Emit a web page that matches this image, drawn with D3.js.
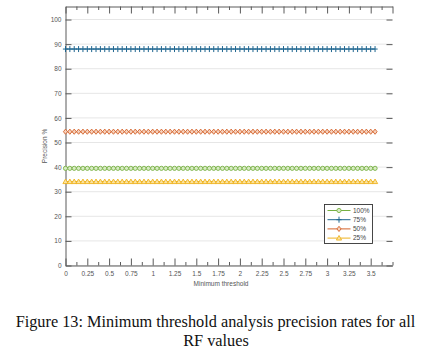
<!DOCTYPE html>
<html><head><meta charset="utf-8">
<script src="https://cdn.jsdelivr.net/npm/d3@7"></script>
<style>body{margin:0;background:#fff}svg{display:block}</style>
</head><body>
<svg id="c" width="425" height="360"></svg>
<script>
const thresholds = [0,0.05,0.1,0.15,0.2,0.25,0.3,0.35,0.4,0.45,0.5,0.55,0.6,0.65,0.7,0.75,0.8,0.85,0.9,0.95,1,1.05,1.1,1.15,1.2,1.25,1.3,1.35,1.4,1.45,1.5,1.55,1.6,1.65,1.7,1.75,1.8,1.85,1.9,1.95,2,2.05,2.1,2.15,2.2,2.25,2.3,2.35,2.4,2.45,2.5,2.55,2.6,2.65,2.7,2.75,2.8,2.85,2.9,2.95,3,3.05,3.1,3.15,3.2,3.25,3.3,3.35,3.4,3.45,3.5,3.55];
const rf100 = [39.5,39.5,39.5,39.5,39.5,39.5,39.5,39.5,39.5,39.5,39.5,39.5,39.5,39.5,39.5,39.5,39.5,39.5,39.5,39.5,39.5,39.5,39.5,39.5,39.5,39.5,39.5,39.5,39.5,39.5,39.5,39.5,39.5,39.5,39.5,39.5,39.5,39.5,39.5,39.5,39.5,39.5,39.5,39.5,39.5,39.5,39.5,39.5,39.5,39.5,39.5,39.5,39.5,39.5,39.5,39.5,39.5,39.5,39.5,39.5,39.5,39.5,39.5,39.5,39.5,39.5,39.5,39.5,39.5,39.5,39.5,39.5];
const rf75 = [88,88,88,88,88,88,88,88,88,88,88,88,88,88,88,88,88,88,88,88,88,88,88,88,88,88,88,88,88,88,88,88,88,88,88,88,88,88,88,88,88,88,88,88,88,88,88,88,88,88,88,88,88,88,88,88,88,88,88,88,88,88,88,88,88,88,88,88,88,88,88,88];
const rf50 = [54.4,54.4,54.4,54.4,54.4,54.4,54.4,54.4,54.4,54.4,54.4,54.4,54.4,54.4,54.4,54.4,54.4,54.4,54.4,54.4,54.4,54.4,54.4,54.4,54.4,54.4,54.4,54.4,54.4,54.4,54.4,54.4,54.4,54.4,54.4,54.4,54.4,54.4,54.4,54.4,54.4,54.4,54.4,54.4,54.4,54.4,54.4,54.4,54.4,54.4,54.4,54.4,54.4,54.4,54.4,54.4,54.4,54.4,54.4,54.4,54.4,54.4,54.4,54.4,54.4,54.4,54.4,54.4,54.4,54.4,54.4,54.4];
const rf25 = [34.1,34.1,34.1,34.1,34.1,34.1,34.1,34.1,34.1,34.1,34.1,34.1,34.1,34.1,34.1,34.1,34.1,34.1,34.1,34.1,34.1,34.1,34.1,34.1,34.1,34.1,34.1,34.1,34.1,34.1,34.1,34.1,34.1,34.1,34.1,34.1,34.1,34.1,34.1,34.1,34.1,34.1,34.1,34.1,34.1,34.1,34.1,34.1,34.1,34.1,34.1,34.1,34.1,34.1,34.1,34.1,34.1,34.1,34.1,34.1,34.1,34.1,34.1,34.1,34.1,34.1,34.1,34.1,34.1,34.1,34.1,34.1];
const seriesNames = ["100%","75%","50%","25%"];
const xTickLabels = ["0","0.25","0.5","0.75","1","1.25","1.5","1.75","2","2.25","2.5","2.75","3","3.25","3.5"];
const yTickLabels = ["0","10","20","30","40","50","60","70","80","90","100"];

const series = [
  {name: seriesNames[0], values: rf100, color: "#77b043", fill: "#d8ecc4", sym: "circle"},
  {name: seriesNames[1], values: rf75,  color: "#1f6690", fill: "none",    sym: "plus"},
  {name: seriesNames[2], values: rf50,  color: "#d4622a", fill: "#f6d2bd", sym: "diamond"},
  {name: seriesNames[3], values: rf25,  color: "#eeb320", fill: "#fbe3a2", sym: "triangle"}
];

const svg = d3.select("#c");
const L = 65.5, R = 392.5, T = 6.5, B = 265.5;
const x = d3.scaleLinear().domain([0, 3.75]).range([L, R]);
const y = d3.scaleLinear().domain([0, 105.3]).range([B, T]);
const axisColor = "#5a5a5a", labelColor = "#555", fontFam = "Liberation Sans, Arial, sans-serif";

// grid
svg.append("g").selectAll("line").data(yTickLabels.map(Number)).join("line")
  .attr("x1", L).attr("x2", R).attr("y1", d => y(d)).attr("y2", d => y(d))
  .attr("stroke", "#e6e6e6").attr("stroke-width", 1);

// axes
const yVals = yTickLabels.map(Number);
const xMajor = xTickLabels.map(Number).concat([3.75]);
const xMinor = d3.range(0.125, 3.75, 0.25);

const gLeft = svg.append("g").attr("transform", `translate(${L},0)`)
  .call(d3.axisLeft(y).tickValues(yVals).tickFormat((d,i) => yTickLabels[i]).tickSizeInner(-6).tickSizeOuter(0).tickPadding(4));
gLeft.select(".domain").attr("stroke", axisColor);
gLeft.selectAll(".tick line").attr("stroke", axisColor);
gLeft.selectAll("text").attr("fill", labelColor).attr("font-size", 6.5).attr("font-family", fontFam);

const gRight = svg.append("g").attr("transform", `translate(${R},0)`)
  .call(d3.axisRight(y).tickValues(yVals).tickFormat("").tickSizeInner(-6).tickSizeOuter(0));
gRight.select(".domain").remove();
gRight.selectAll(".tick line").attr("stroke", axisColor);

const gBottom = svg.append("g").attr("transform", `translate(0,${B})`)
  .call(d3.axisBottom(x).tickValues(xTickLabels.map(Number)).tickFormat((d,i) => xTickLabels[i]).tickSizeInner(-7).tickSizeOuter(0).tickPadding(6));
gBottom.select(".domain").attr("stroke", axisColor);
gBottom.selectAll(".tick line").attr("stroke", axisColor);
gBottom.selectAll("text").attr("fill", labelColor).attr("font-size", 6.5).attr("font-family", fontFam);
svg.append("g").attr("transform", `translate(0,${B})`)
  .call(d3.axisBottom(x).tickValues(xMinor.concat([3.75])).tickFormat("").tickSizeInner(-3.5).tickSizeOuter(0))
  .call(g => g.select(".domain").remove())
  .selectAll(".tick line").attr("stroke", axisColor);

const gTop = svg.append("g").attr("transform", `translate(0,${T})`)
  .call(d3.axisTop(x).tickValues(xMajor).tickFormat("").tickSizeInner(-7).tickSizeOuter(0));
gTop.select(".domain").attr("stroke", axisColor);
gTop.selectAll(".tick line").attr("stroke", axisColor);
svg.append("g").attr("transform", `translate(0,${T})`)
  .call(d3.axisTop(x).tickValues(xMinor).tickFormat("").tickSizeInner(-3.5).tickSizeOuter(0))
  .call(g => g.select(".domain").remove())
  .selectAll(".tick line").attr("stroke", axisColor);

// labels
svg.append("text").attr("x", (L + R) / 2 - 8).attr("y", 286).attr("text-anchor", "middle")
  .attr("font-size", 6.5).attr("font-family", fontFam).attr("fill", labelColor).text("Minimum threshold");
svg.append("text").attr("transform", `translate(46.5,146) rotate(-90)`).attr("text-anchor", "middle")
  .attr("font-size", 6.5).attr("font-family", fontFam).attr("fill", labelColor).text("Precision %");

// symbols
function drawMarker(g, s, cx, cy, scale) {
  const k = scale || 1;
  if (s.sym === "circle") {
    g.append("circle").attr("cx", cx).attr("cy", cy).attr("r", 2.1 * k)
      .attr("fill", s.fill).attr("stroke", s.color).attr("stroke-width", 0.9);
  } else if (s.sym === "plus") {
    g.append("path").attr("d", `M${cx - 2.6*k},${cy}H${cx + 2.6*k}M${cx},${cy - 3*k}V${cy + 3*k}`)
      .attr("stroke", s.color).attr("stroke-width", 1).attr("fill", "none");
  } else if (s.sym === "diamond") {
    const r = 2.6 * k;
    g.append("path").attr("d", `M${cx},${cy - r}L${cx + r*0.8},${cy}L${cx},${cy + r}L${cx - r*0.8},${cy}Z`)
      .attr("fill", s.fill).attr("stroke", s.color).attr("stroke-width", 0.9);
  } else {
    const r = 2.6 * k;
    g.append("path").attr("d", `M${cx},${cy - r}L${cx + r},${cy + r*0.75}L${cx - r},${cy + r*0.75}Z`)
      .attr("fill", s.fill).attr("stroke", s.color).attr("stroke-width", 0.9);
  }
}

const line = d3.line().x((d, i) => x(thresholds[i])).y(d => y(d));
series.forEach(s => {
  const g = svg.append("g");
  g.append("path").datum(s.values).attr("d", line).attr("fill", "none")
    .attr("stroke", s.color).attr("stroke-width", 1.1);
  s.values.forEach((v, i) => drawMarker(g, s, x(thresholds[i]), y(v)));
});

// legend
const lg = svg.append("g").attr("transform", "translate(324.5,204.5)");
lg.append("rect").attr("width", 48).attr("height", 39).attr("fill", "#fff").attr("stroke", "#333").attr("stroke-width", 0.9);
series.forEach((s, i) => {
  const yy = 6 + i * 9.2;
  lg.append("line").attr("x1", 3).attr("x2", 26).attr("y1", yy).attr("y2", yy).attr("stroke", s.color).attr("stroke-width", 1);
  drawMarker(lg, s, 14.5, yy, 1);
  lg.append("text").attr("x", 28.5).attr("y", yy + 2.3).attr("font-size", 6.5).attr("font-family", fontFam)
    .attr("fill", "#444").text(s.name);
});

// caption
const capFont = "Liberation Serif, Times New Roman, serif";
svg.append("text").attr("x", 215.5).attr("y", 327).attr("text-anchor", "middle")
  .attr("font-size", 16.3).attr("font-family", capFont).attr("fill", "#111")
  .text("Figure 13: Minimum threshold analysis precision rates for all");
svg.append("text").attr("x", 216).attr("y", 346).attr("text-anchor", "middle")
  .attr("font-size", 16.3).attr("font-family", capFont).attr("fill", "#111")
  .text("RF values");
</script>
</body></html>
